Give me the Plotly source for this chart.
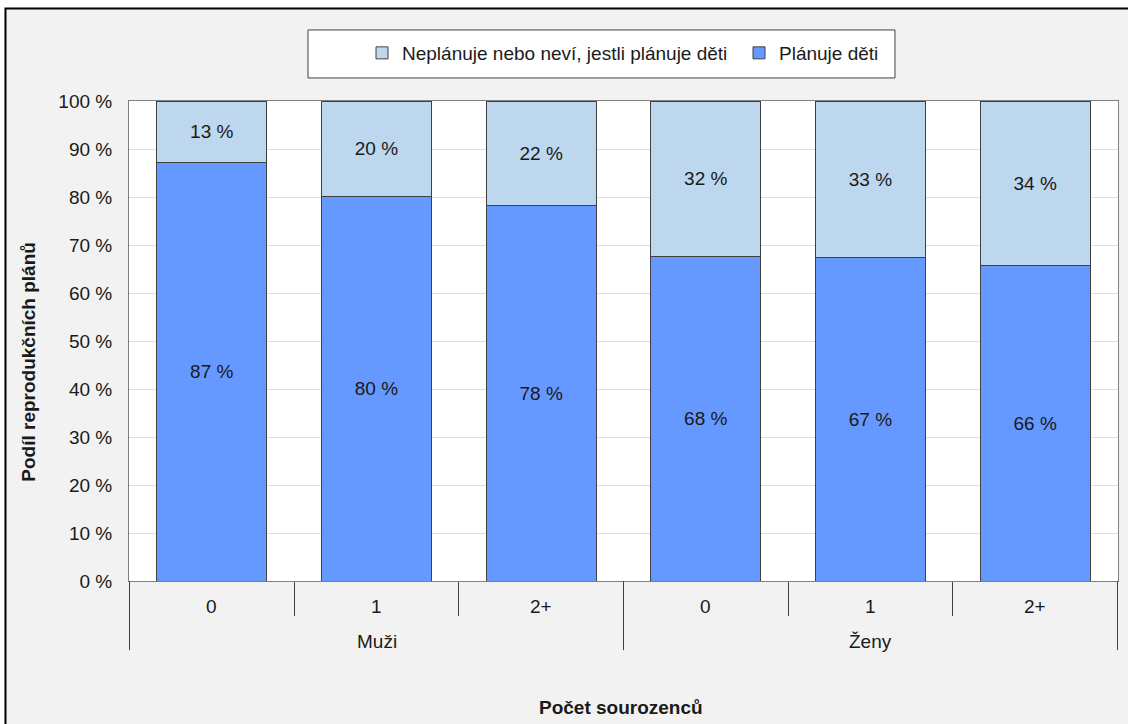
import plotly.graph_objects as go

# Data
groups = ["Muži", "Muži", "Muži", "Ženy", "Ženy", "Ženy"]
siblings = ["0", "1", "2+", "0", "1", "2+"]
plans_yes = [87.1, 80.2, 78.3, 67.7, 67.3, 65.8]
plans_no = [12.9, 19.8, 21.7, 32.3, 32.7, 34.2]
labels_yes = ["87 %", "80 %", "78 %", "68 %", "67 %", "66 %"]
labels_no = ["13 %", "20 %", "22 %", "32 %", "33 %", "34 %"]
y_ticks = [0, 10, 20, 30, 40, 50, 60, 70, 80, 90, 100]
y_ticktext = [f"{v} %" for v in y_ticks]

font_family = "Liberation Sans, Arial, sans-serif"
fs = 19

# one category per bar, labelled below with sibling count and sex group
keys = [f"{g}|{s}" for g, s in zip(groups, siblings)]

fig = go.Figure()

fig.add_trace(go.Bar(
    x=keys,
    y=plans_yes,
    name="Plánuje děti",
    text=labels_yes,
    textposition="inside",
    insidetextanchor="middle",
    textfont=dict(color="#1a1a1a", size=fs),
    marker=dict(color="#6699ff", line=dict(color="#404040", width=1)),
    hoverinfo="skip",
))

fig.add_trace(go.Bar(
    x=keys,
    y=plans_no,
    name="Neplánuje nebo neví, jestli plánuje děti",
    text=labels_no,
    textposition="inside",
    insidetextanchor="middle",
    textfont=dict(color="#1a1a1a", size=fs),
    marker=dict(color="#bdd7ee", line=dict(color="#404040", width=1)),
    hoverinfo="skip",
))

# axis labels under the bars
annotations = []
for k, s in zip(keys, siblings):
    annotations.append(dict(text=s, x=k, xref="x", y=-0.054, yref="paper",
                            xanchor="center", yanchor="middle", showarrow=False,
                            font=dict(size=fs)))
group_names = list(dict.fromkeys(groups))
for g in group_names:
    idx = [i for i, gg in enumerate(groups) if gg == g]
    mid = keys[idx[len(idx) // 2]]
    annotations.append(dict(text=g, x=mid, xref="x", y=-0.125, yref="paper",
                            xanchor="center", yanchor="middle", showarrow=False,
                            font=dict(size=fs)))

annotations += [
    dict(text="<b>Podíl reprodukčních plánů</b>", xref="paper", yref="paper",
         x=-0.1015, y=0.456, xanchor="center", yanchor="middle",
         textangle=-90, showarrow=False, font=dict(size=fs)),
    dict(text="<b>Počet sourozenců</b>", xref="paper", yref="paper",
         x=0.4975, y=-0.2625, xanchor="center", yanchor="middle",
         showarrow=False, font=dict(size=fs)),
]

# group dividers below the axis
bounds = [-0.5] + [i - 0.5 for i in range(1, len(groups)) if groups[i] != groups[i - 1]] + [len(groups) - 0.5]
shapes = [
    # outer chart frame
    dict(type="rect", xref="paper", yref="paper", layer="below",
         x0=-0.1249, x1=1.02, y0=-0.32, y1=1.1927,
         fillcolor="#f2f2f2", line=dict(color="black", width=2)),
    # white plot area
    dict(type="rect", xref="paper", yref="paper", layer="below",
         x0=0, x1=1, y0=0, y1=1,
         fillcolor="white", line=dict(width=0)),
    # legend box
    dict(type="rect", xref="paper", yref="paper", layer="below",
         x0=0.181, x1=0.7745, y0=1.048, y1=1.148,
         fillcolor="white", line=dict(color="#404040", width=1)),
]
for b in bounds:
    shapes.append(dict(type="line", xref="x", yref="paper", x0=b, x1=b,
                       y0=0, y1=-0.144, line=dict(color="#404040", width=1)))

fig.update_layout(
    width=1128,
    height=724,
    barmode="stack",
    bargap=1 / 3,
    paper_bgcolor="white",
    plot_bgcolor="white",
    font=dict(family=font_family, size=fs, color="#1a1a1a"),
    margin=dict(l=129, r=10, t=101, b=143, autoexpand=False),
    showlegend=True,
    legend=dict(
        orientation="h",
        traceorder="reversed",
        x=(362 - 129) / 989,
        xanchor="left",
        y=1.1,
        yanchor="middle",
        bgcolor="rgba(0,0,0,0)",
        borderwidth=0,
        entrywidth=332,
        entrywidthmode="pixels",
        font=dict(size=fs),
    ),
    xaxis=dict(
        type="category",
        automargin=False,
        showgrid=False,
        showticklabels=False,
        ticks="outside",
        tickson="boundaries",
        ticklen=34,
        tickcolor="#404040",
        showline=True,
        linecolor="#808080",
        mirror=True,
    ),
    yaxis=dict(
        automargin=False,
        range=[0, 100],
        tickmode="array",
        tickvals=y_ticks,
        ticktext=y_ticktext,
        showgrid=True,
        gridcolor="#dedede",
        showline=True,
        linecolor="#808080",
        mirror=True,
        ticks="outside",
        ticklen=12,
        tickcolor="rgba(0,0,0,0)",
        tickfont=dict(size=fs),
    ),
    shapes=shapes,
    annotations=annotations,
)

# drop the default page margin so the figure fills the window exactly
fig.write_html("out.html", config={"displayModeBar": False},
               post_script="document.body.style.margin='0';")
